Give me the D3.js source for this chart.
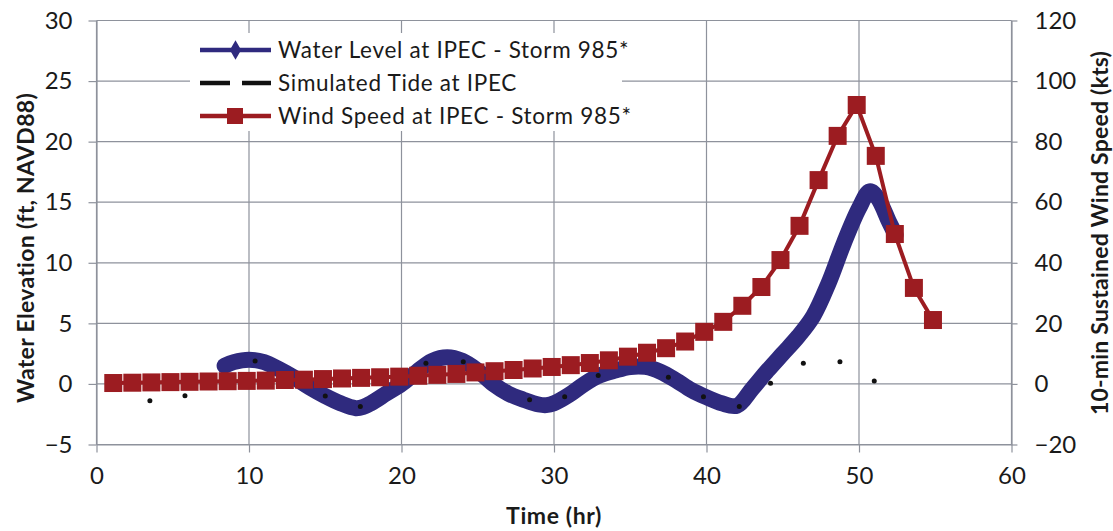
<!DOCTYPE html>
<html>
<head>
<meta charset="utf-8">
<script src="https://cdn.jsdelivr.net/npm/d3@7/dist/d3.min.js"></script>
<style>
  html, body { margin: 0; padding: 0; background: #ffffff; }
  svg { display: block; }
  text { font-family: Lato, "Liberation Sans", sans-serif; fill: #1a1a1a; }
</style>
</head>
<body>
<svg id="chart" width="1113" height="531"></svg>
<script>
// ---- data ----
const timeTicks = [0, 10, 20, 30, 40, 50, 60];
const elevTicks = [-5, 0, 5, 10, 15, 20, 25, 30];
const windTicks = [-20, 0, 20, 40, 60, 80, 100, 120];

// Water level at IPEC - Storm 985* (hr, ft NAVD88)
const waterTime  = [8.4, 9, 10, 11, 12, 13, 14, 15, 16, 17, 17.5, 18, 19, 20, 21, 22, 23, 24, 25, 26, 27, 28, 29, 29.5, 30, 31, 32, 33, 34, 35, 36, 37, 38, 39, 40, 41, 42, 43, 44, 45, 46, 47, 48, 49, 50, 50.7, 51.2, 52, 52.4];
const waterLevel = [1.5, 1.8, 2.0, 1.8, 1.2, 0.5, -0.3, -1.0, -1.6, -2.0, -1.9, -1.6, -0.8, 0.0, 1.0, 1.9, 2.2, 1.9, 1.1, 0.0, -0.8, -1.3, -1.7, -1.75, -1.6, -0.9, 0.0, 0.7, 1.1, 1.4, 1.4, 1.0, 0.3, -0.5, -1.1, -1.6, -1.8, -0.4, 1.1, 2.5, 3.9, 5.6, 8.3, 11.6, 14.5, 15.9, 15.4, 13.3, 12.3];

// Simulated tide at IPEC (hr, ft NAVD88)
const tideTime  = [3.5, 5.8, 10.4, 15.0, 17.3, 21.6, 24.05, 28.4, 30.7, 32.9, 37.5, 39.8, 42.15, 44.2, 46.35, 48.75, 51.0];
const tideLevel = [-1.38, -0.97, 1.9, -1.0, -1.87, 1.7, 1.84, -1.3, -1.05, 0.7, 0.55, -1.05, -1.87, 0.05, 1.7, 1.84, 0.25];

// Wind speed at IPEC - Storm 985* (hr, kts)
const windTime  = [1.1, 2.35, 3.6, 4.85, 6.1, 7.35, 8.6, 9.85, 11.1, 12.35, 13.6, 14.85, 16.1, 17.35, 18.6, 19.85, 21.1, 22.35, 23.6, 24.85, 26.1, 27.35, 28.6, 29.85, 31.1, 32.35, 33.6, 34.85, 36.1, 37.35, 38.6, 39.85, 41.1, 42.35, 43.6, 44.85, 46.1, 47.35, 48.6, 49.85, 51.1, 52.35, 53.6, 54.85];
const windSpeed = [0.3, 0.4, 0.5, 0.6, 0.7, 0.8, 0.9, 1.0, 1.1, 1.3, 1.4, 1.6, 1.8, 2.0, 2.2, 2.4, 2.7, 3.0, 3.3, 3.8, 4.2, 4.6, 5.1, 5.6, 6.2, 6.9, 7.8, 9.0, 10.3, 11.8, 14.0, 17.2, 20.5, 25.8, 32.0, 40.9, 52.2, 67.3, 81.9, 92.1, 75.3, 49.5, 31.7, 21.1];

const seriesNames = ["Water Level at IPEC - Storm 985*", "Simulated Tide at IPEC", "Wind Speed at IPEC - Storm 985*"];

// ---- layout ----
const plot = { left: 96.5, right: 1011.5, top: 20.5, bottom: 444.5 };
const blue = "#2f2a7e", red = "#9c1c21", gridColor = "#8e929c";

const svg = d3.select("#chart");
const x  = d3.scaleLinear().domain([0, 60]).range([plot.left, plot.right]);
const yL = d3.scaleLinear().domain([-5, 30]).range([plot.bottom, plot.top]);
const yR = d3.scaleLinear().domain([-20, 120]).range([plot.bottom, plot.top]);

// grid
const grid = svg.append("g");
grid.selectAll("line.h").data(elevTicks).join("line")
  .attr("x1", plot.left).attr("x2", plot.right)
  .attr("y1", d => yL(d)).attr("y2", d => yL(d))
  .attr("stroke", gridColor).attr("stroke-width", 1.2);
grid.selectAll("line.v").data(timeTicks).join("line")
  .attr("y1", plot.top).attr("y2", plot.bottom)
  .attr("x1", d => x(d)).attr("x2", d => x(d))
  .attr("stroke", gridColor).attr("stroke-width", 1.2);

// axes
function styleAxis(g) {
  g.selectAll("path").attr("stroke", gridColor).attr("stroke-width", 1.2);
  g.selectAll("line").attr("stroke", gridColor).attr("stroke-width", 1.2);
  g.selectAll("text").attr("font-size", 24).attr("fill", "#1a1a1a")
    .style("font-family", "Lato, 'Liberation Sans', sans-serif");
}
svg.append("g").attr("transform", `translate(0,${plot.bottom})`)
  .call(d3.axisBottom(x).tickValues(timeTicks).tickSize(8).tickPadding(14).tickSizeOuter(0))
  .call(styleAxis);
svg.append("g").attr("transform", `translate(${plot.left},0)`)
  .call(d3.axisLeft(yL).tickValues(elevTicks).tickSize(8).tickPadding(16).tickSizeOuter(0))
  .call(styleAxis);
svg.append("g").attr("transform", `translate(${plot.right},0)`)
  .call(d3.axisRight(yR).tickValues(windTicks).tickSize(6).tickPadding(17).tickSizeOuter(0))
  .call(styleAxis);

// water level band
const waterData = waterTime.map((t, i) => [t, waterLevel[i]]);
svg.append("path").datum(waterData)
  .attr("fill", "none").attr("stroke", blue).attr("stroke-width", 16)
  .attr("stroke-linecap", "round").attr("stroke-linejoin", "round")
  .attr("d", d3.line().x(d => x(d[0])).y(d => yL(d[1])).curve(d3.curveCatmullRom));

// tide points
svg.append("g").selectAll("circle").data(tideTime.map((t, i) => [t, tideLevel[i]])).join("circle")
  .attr("cx", d => x(d[0])).attr("cy", d => yL(d[1])).attr("r", 2.5).attr("fill", "#111");

// wind speed line + square markers
const windData = windTime.map((t, i) => [t, windSpeed[i]]);
svg.append("path").datum(windData)
  .attr("fill", "none").attr("stroke", red).attr("stroke-width", 4)
  .attr("d", d3.line().x(d => x(d[0])).y(d => yR(d[1])));
const sq = 18;
svg.append("g").selectAll("rect").data(windData).join("rect")
  .attr("x", d => x(d[0]) - sq / 2).attr("y", d => yR(d[1]) - sq / 2)
  .attr("width", sq).attr("height", sq).attr("fill", red);

// legend
const lg = svg.append("g");
lg.append("rect").attr("x", 190).attr("y", 33).attr("width", 432).attr("height", 98).attr("fill", "#ffffff");
const rowY = [50, 83, 116];
// water level key
lg.append("line").attr("x1", 200).attr("x2", 271).attr("y1", rowY[0]).attr("y2", rowY[0])
  .attr("stroke", blue).attr("stroke-width", 4.5);
lg.append("path").attr("d", d3.symbol(d3.symbolDiamond, 110)())
  .attr("transform", `translate(235.5,${rowY[0]})`).attr("fill", blue);
// tide key
lg.append("line").attr("x1", 200).attr("x2", 271).attr("y1", rowY[1]).attr("y2", rowY[1])
  .attr("stroke", "#111").attr("stroke-width", 4.5).attr("stroke-dasharray", "30,12");
// wind key
lg.append("line").attr("x1", 200).attr("x2", 271).attr("y1", rowY[2]).attr("y2", rowY[2])
  .attr("stroke", red).attr("stroke-width", 4.5);
lg.append("rect").attr("x", 227).attr("y", rowY[2] - 8).attr("width", 16).attr("height", 16).attr("fill", red);
lg.selectAll("text").data(seriesNames).join("text")
  .attr("x", 278).attr("y", (d, i) => rowY[i] + 8)
  .attr("font-size", 22.5).attr("letter-spacing", 0.7).text(d => d);

// axis titles
svg.append("text").attr("transform", `translate(${x(30)},524)`)
  .attr("text-anchor", "middle").attr("font-size", 23).attr("font-weight", "bold")
  .attr("letter-spacing", 0.6).text("Time (hr)");
svg.append("text").attr("transform", "translate(34,248) rotate(-90)")
  .attr("text-anchor", "middle").attr("font-size", 23).attr("font-weight", "bold")
  .attr("letter-spacing", 0.3).text("Water Elevation (ft, NAVD88)");
svg.append("text").attr("transform", "translate(1108,233) rotate(-90)")
  .attr("text-anchor", "middle").attr("font-size", 23).attr("font-weight", "bold")
  .attr("letter-spacing", 0.2).text("10-min Sustained Wind Speed (kts)");
</script>
</body>
</html>
